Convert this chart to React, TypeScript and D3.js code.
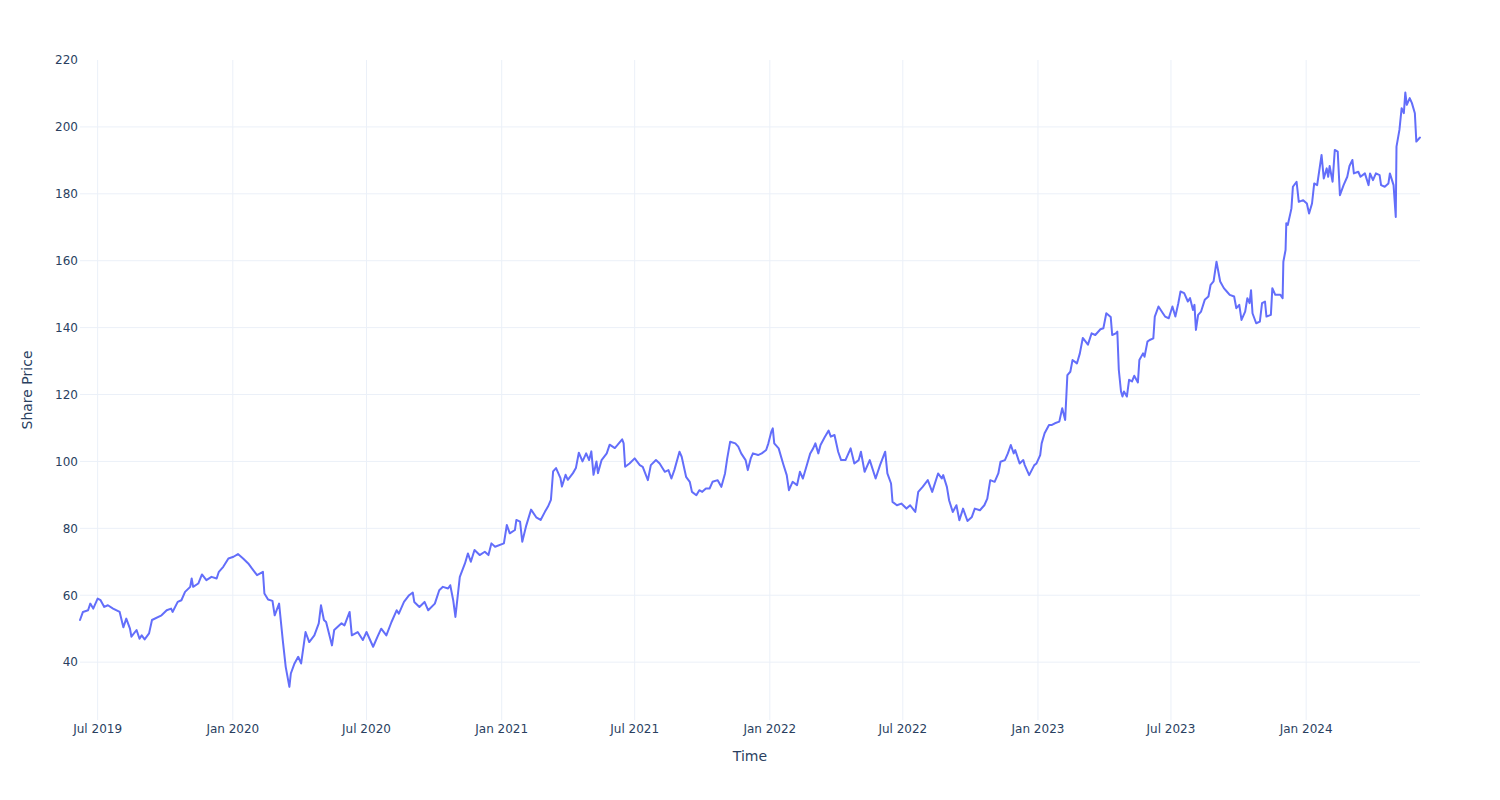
import React from "react";
import * as d3 from "d3";

const tradeDates: string[] = [
  "2019-06-07","2019-06-11","2019-06-18","2019-06-21","2019-06-25","2019-07-01","2019-07-05","2019-07-10","2019-07-15","2019-07-22",
  "2019-07-31","2019-08-05","2019-08-09","2019-08-14","2019-08-16","2019-08-23","2019-08-27","2019-08-30","2019-09-03","2019-09-09",
  "2019-09-13","2019-09-26","2019-10-03","2019-10-09","2019-10-11","2019-10-18","2019-10-23","2019-10-28","2019-11-04","2019-11-06",
  "2019-11-08","2019-11-15","2019-11-20","2019-11-26","2019-12-03","2019-12-10","2019-12-13","2019-12-19","2019-12-26","2020-01-02",
  "2020-01-08","2020-01-15","2020-01-22","2020-01-27","2020-02-03","2020-02-11","2020-02-13","2020-02-18","2020-02-24","2020-02-27",
  "2020-03-04","2020-03-09","2020-03-13","2020-03-18","2020-03-20","2020-03-25","2020-03-30","2020-04-03","2020-04-09","2020-04-14",
  "2020-04-21","2020-04-27","2020-04-30","2020-05-04","2020-05-07","2020-05-15","2020-05-18","2020-05-28","2020-06-01","2020-06-08",
  "2020-06-11","2020-06-19","2020-06-26","2020-07-01","2020-07-10","2020-07-16","2020-07-21","2020-07-28","2020-08-04","2020-08-11",
  "2020-08-14","2020-08-21","2020-08-28","2020-09-02","2020-09-04","2020-09-11","2020-09-18","2020-09-23","2020-10-02","2020-10-08",
  "2020-10-13","2020-10-20","2020-10-23","2020-10-27","2020-10-30","2020-11-05","2020-11-12","2020-11-16","2020-11-20","2020-11-25",
  "2020-12-02","2020-12-09","2020-12-14","2020-12-18","2020-12-23","2021-01-04","2021-01-08","2021-01-12","2021-01-19","2021-01-21",
  "2021-01-26","2021-01-29","2021-02-03","2021-02-10","2021-02-17","2021-02-23","2021-03-01","2021-03-05","2021-03-09","2021-03-12",
  "2021-03-16","2021-03-22","2021-03-24","2021-03-29","2021-04-01","2021-04-08","2021-04-12","2021-04-16","2021-04-21","2021-04-26",
  "2021-04-30","2021-05-03","2021-05-06","2021-05-10","2021-05-12","2021-05-17","2021-05-24","2021-05-28","2021-06-04","2021-06-08",
  "2021-06-14","2021-06-16","2021-06-18","2021-06-24","2021-07-01","2021-07-08","2021-07-12","2021-07-19","2021-07-23","2021-07-30",
  "2021-08-04","2021-08-11","2021-08-16","2021-08-20","2021-08-24","2021-08-31","2021-09-03","2021-09-09","2021-09-14","2021-09-17",
  "2021-09-23","2021-09-27","2021-10-01","2021-10-06","2021-10-11","2021-10-15","2021-10-22","2021-10-27","2021-11-01","2021-11-04",
  "2021-11-08","2021-11-15","2021-11-19","2021-11-23","2021-11-29","2021-12-02","2021-12-06","2021-12-09","2021-12-16","2021-12-21",
  "2021-12-27","2021-12-30","2022-01-03","2022-01-05","2022-01-07","2022-01-13","2022-01-19","2022-01-24","2022-01-27","2022-02-01",
  "2022-02-07","2022-02-11","2022-02-15","2022-02-21","2022-02-25","2022-03-01","2022-03-04","2022-03-08","2022-03-11","2022-03-17",
  "2022-03-22","2022-03-25","2022-03-30","2022-04-04","2022-04-08","2022-04-14","2022-04-21","2022-04-26","2022-05-02","2022-05-05",
  "2022-05-10","2022-05-17","2022-05-25","2022-05-31","2022-06-07","2022-06-10","2022-06-15","2022-06-17","2022-06-23","2022-06-29",
  "2022-07-06","2022-07-11","2022-07-18","2022-07-22","2022-07-28","2022-08-04","2022-08-10","2022-08-18","2022-08-23","2022-08-25",
  "2022-08-30","2022-09-02","2022-09-07","2022-09-12","2022-09-16","2022-09-21","2022-09-27","2022-10-03","2022-10-07","2022-10-14",
  "2022-10-20","2022-10-24","2022-10-28","2022-11-03","2022-11-08","2022-11-11","2022-11-17","2022-11-21","2022-11-25","2022-11-29",
  "2022-12-01","2022-12-07","2022-12-12","2022-12-14","2022-12-20","2022-12-27","2022-12-30","2023-01-04","2023-01-06","2023-01-10",
  "2023-01-16","2023-01-20","2023-01-24","2023-01-30","2023-02-03","2023-02-07","2023-02-10","2023-02-14","2023-02-17","2023-02-23",
  "2023-02-27","2023-03-03","2023-03-10","2023-03-15","2023-03-20","2023-03-27","2023-03-31","2023-04-04","2023-04-10","2023-04-12",
  "2023-04-17","2023-04-19","2023-04-21","2023-04-24","2023-04-26","2023-04-28","2023-05-02","2023-05-05","2023-05-09","2023-05-12",
  "2023-05-17","2023-05-19","2023-05-24","2023-05-26","2023-05-30","2023-06-02","2023-06-07","2023-06-09","2023-06-14","2023-06-20",
  "2023-06-23","2023-06-28","2023-07-03","2023-07-07","2023-07-11","2023-07-14","2023-07-19","2023-07-24","2023-07-27","2023-07-31",
  "2023-08-02","2023-08-04","2023-08-07","2023-08-11","2023-08-16","2023-08-21","2023-08-24","2023-08-28","2023-09-01","2023-09-06",
  "2023-09-11","2023-09-15","2023-09-19","2023-09-25","2023-09-28","2023-10-02","2023-10-05","2023-10-10","2023-10-13","2023-10-16",
  "2023-10-18","2023-10-20","2023-10-25","2023-10-30","2023-11-02","2023-11-06","2023-11-08","2023-11-14","2023-11-16","2023-11-20",
  "2023-11-27","2023-11-30","2023-12-01","2023-12-04","2023-12-05","2023-12-07","2023-12-11","2023-12-12","2023-12-14","2023-12-19",
  "2023-12-22","2023-12-28","2024-01-02","2024-01-05","2024-01-09","2024-01-12","2024-01-16","2024-01-22","2024-01-25","2024-01-29",
  "2024-01-31","2024-02-02","2024-02-06","2024-02-09","2024-02-13","2024-02-16","2024-02-21","2024-02-26","2024-02-29","2024-03-04",
  "2024-03-06","2024-03-12","2024-03-15","2024-03-21","2024-03-26","2024-03-28","2024-04-01","2024-04-05","2024-04-10","2024-04-12",
  "2024-04-17","2024-04-22","2024-04-24","2024-04-29","2024-05-02","2024-05-03","2024-05-07","2024-05-10","2024-05-13","2024-05-15",
  "2024-05-17","2024-05-21","2024-05-24","2024-05-28","2024-05-30","2024-06-03","2024-06-04"
];

const sharePrices: number[] = [
  52.6,55.0,55.5,57.5,56.0,59.0,58.5,56.5,57.0,56.0,
  55.0,50.4,53.0,50.0,47.6,49.6,47.0,48.0,46.8,48.6,
  52.6,54.0,55.5,56.0,55.0,58.0,58.5,61.0,62.5,65.0,
  62.5,63.5,66.2,64.5,65.5,65.0,67.0,68.5,71.0,71.5,
  72.3,71.0,69.5,68.0,66.0,67.0,60.5,58.7,58.3,54.0,
  57.5,46.6,38.6,32.6,36.6,39.6,41.6,39.6,49.0,46.0,
  48.0,51.6,57.0,52.6,52.0,45.0,49.6,51.6,51.0,55.0,
  48.0,49.0,46.6,49.0,44.6,47.6,50.0,48.0,52.0,55.5,
  54.5,58.0,60.0,60.8,58.0,56.5,58.0,55.5,57.5,61.5,
  62.5,62.0,63.0,58.5,53.5,65.5,69.5,72.5,70.0,73.5,
  72.0,73.0,72.0,75.5,74.5,75.5,81.0,78.5,79.5,82.5,
  82.0,76.0,80.5,85.6,83.3,82.5,85.0,86.5,88.5,97.0,
  98.0,95.0,92.5,96.0,94.5,96.5,98.0,102.6,100.0,102.4,
  100.4,103.0,96.0,100.0,96.5,100.4,102.4,105.0,104.0,105.0,
  106.6,105.4,98.4,99.4,100.9,98.9,98.4,94.4,98.9,100.4,
  99.4,96.9,97.4,94.9,97.4,102.9,101.4,95.4,93.9,90.9,
  89.9,91.4,90.9,91.9,91.9,93.9,94.4,92.4,96.4,100.9,
  105.9,105.4,104.4,102.4,100.4,97.4,100.9,102.4,101.9,102.4,
  103.4,105.4,108.9,109.9,105.4,103.9,99.4,95.9,91.4,93.9,
  92.9,96.9,94.9,99.4,102.4,103.9,105.4,102.4,104.9,107.4,
  109.2,107.4,107.9,102.9,100.4,100.4,103.9,99.4,100.4,102.9,
  96.9,100.4,94.9,98.9,102.9,96.4,93.4,87.9,86.9,87.4,
  85.9,86.9,84.9,90.9,92.4,94.4,90.9,96.4,94.9,95.9,
  92.4,88.4,84.9,86.9,82.4,85.9,82.2,83.4,85.9,85.4,
  86.9,88.9,94.4,93.9,96.4,99.9,100.4,102.4,104.9,102.4,
  103.4,99.4,100.4,98.9,95.9,98.9,99.4,101.9,105.4,108.4,
  110.9,110.9,111.4,111.9,115.9,112.4,125.8,126.8,130.3,129.3,
  132.3,136.9,134.9,138.3,137.8,139.5,139.8,144.3,143.2,137.8,
  138.3,138.8,127.4,120.9,119.4,120.9,119.4,124.4,123.9,125.6,
  123.6,130.3,132.3,131.3,135.8,136.3,136.8,143.3,146.3,144.3,
  143.3,142.8,146.3,143.3,147.3,150.8,150.3,147.8,148.8,145.3,
  146.8,139.3,143.8,144.8,148.3,149.3,152.8,153.8,159.7,153.8,
  151.8,150.8,149.8,149.3,145.8,146.8,142.3,144.8,148.8,147.3,
  151.2,144.3,141.3,141.8,147.3,147.8,143.3,143.8,151.8,149.8,
  149.8,148.8,159.7,163.2,171.2,170.7,174.6,175.7,182.1,183.6,
  177.6,178.1,177.1,174.1,177.1,183.1,182.6,191.6,184.6,187.6,
  185.1,188.3,183.6,193.1,192.6,179.6,182.6,185.1,188.3,190.1,
  186.1,186.6,185.1,186.1,182.6,186.1,184.1,186.1,185.6,182.6,
  182.1,183.1,186.1,182.6,173.1,194.1,199.1,205.6,204.1,210.3,
  206.6,208.6,207.1,204.1,195.6,196.6,196.8
];

const xTickDates: string[] = [
  "2019-07-01","2020-01-01","2020-07-01","2021-01-01","2021-07-01",
  "2022-01-01","2022-07-01","2023-01-01","2023-07-01","2024-01-01"
];
const yTickValues: number[] = [40, 60, 80, 100, 120, 140, 160, 180, 200, 220];
const yAxisRange: number[] = [22.7, 220];
const xAxisTitle = "Time";
const yAxisTitle = "Share Price";

const W = 1500;
const H = 800;
const M = { l: 80, r: 80, t: 60, b: 80 };
const FONT = "'DejaVu Sans', Verdana, sans-serif";
const TXT = "#2a3f5f";
const GRID = "#ebf0f8";

export default function App() {
  const parse = d3.utcParse("%Y-%m-%d");
  const data = tradeDates.map((d, i) => ({ date: parse(d) as Date, value: sharePrices[i] }));
  const x = d3
    .scaleUtc()
    .domain(d3.extent(data, (d) => d.date) as [Date, Date])
    .range([M.l, W - M.r]);
  const y = d3.scaleLinear().domain(yAxisRange).range([H - M.b, M.t]);
  const line = d3
    .line<{ date: Date; value: number }>()
    .x((d) => x(d.date))
    .y((d) => y(d.value));
  const fmt = d3.utcFormat("%b %Y");
  const xTicks = xTickDates.map((s) => parse(s) as Date);
  const innerTop = M.t + 0.5;

  return (
    <svg
      width={W}
      height={H}
      style={{ position: "absolute", left: 0, top: 0, background: "#fff" }}
      fontFamily={FONT}
    >
      <rect x={0} y={0} width={W} height={H} fill="#fff" />
      <g>
        {xTicks.map((t, i) => (
          <line key={"xg" + i} x1={x(t)} x2={x(t)} y1={M.t} y2={H - M.b} stroke={GRID} strokeWidth={1} />
        ))}
        {yTickValues
          .filter((v) => y(v) > innerTop)
          .map((v, i) => (
            <line key={"yg" + i} x1={M.l} x2={W - M.r} y1={y(v)} y2={y(v)} stroke={GRID} strokeWidth={1} />
          ))}
      </g>
      <path
        d={line(data) || ""}
        fill="none"
        stroke="#636efa"
        strokeWidth={2}
        strokeLinejoin="round"
        strokeLinecap="round"
      />
      <g fontSize={12} fill={TXT}>
        {xTicks.map((t, i) => (
          <text key={"xt" + i} x={x(t)} y={732.5} textAnchor="middle">
            {fmt(t)}
          </text>
        ))}
        {yTickValues.map((v, i) => (
          <text key={"yt" + i} x={78} y={y(v) + 4.3} textAnchor="end">
            {v}
          </text>
        ))}
      </g>
      <text x={(M.l + W - M.r) / 2} y={761} textAnchor="middle" fontSize={14} fill={TXT}>
        {xAxisTitle}
      </text>
      <text transform="translate(32,390) rotate(-90)" textAnchor="middle" fontSize={14} fill={TXT}>
        {yAxisTitle}
      </text>
    </svg>
  );
}
